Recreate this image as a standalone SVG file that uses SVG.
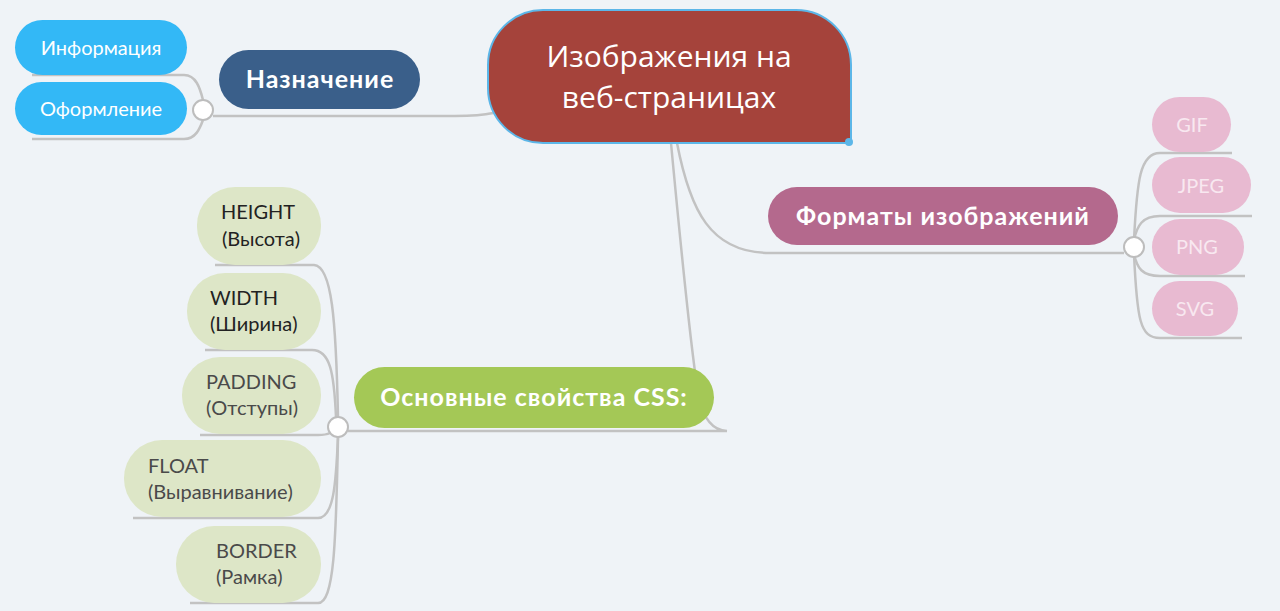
<svg xmlns="http://www.w3.org/2000/svg" width="1280" height="611" viewBox="0 0 1280 611">
<style>
.bg{fill:#eff3f7}
.conn path{fill:none;stroke:#c2c2c2;stroke-width:2.5}
.knob{fill:#fff;stroke:#bdbdbd;stroke-width:2}
.main{font-family:Lato,"Open Sans",sans-serif;font-weight:bold;font-size:25px;letter-spacing:1px;fill:#fff;text-anchor:middle}
.blue{fill:#33b8f6}
.blt{font-family:Lato,"Open Sans",sans-serif;font-size:20px;fill:#fff;text-anchor:middle}
.pink{fill:#e8bad1}
.pkt{font-family:Lato,"Open Sans",sans-serif;font-size:20px;fill:#f8e8f0;text-anchor:middle}
.green{fill:#dde6c7}
.gt{font-family:Lato,"Open Sans",sans-serif;font-size:20px;fill:#222}
.gt2{font-family:Lato,"Open Sans",sans-serif;font-size:20px;fill:#4a4a4a}
</style>
<rect class="bg" x="0" y="0" width="1280" height="611"/>
<g id="connectors" class="conn">
<path d="M493 113 C480 116 470 116 455 116 H213"/>
<path d="M32 75 H184 C196 75 200 88 203 100"/>
<path d="M32 139 H184 C196 139 200 128 203 120"/>
<path d="M677 143 C690 210 710 253 770 253 H1124"/>
<path d="M1134 240 C1137 180 1140 153 1160 153 H1232"/>
<path d="M1134 240 C1137 226 1142 216 1160 216 H1252"/>
<path d="M1134 254 C1137 268 1142 276 1160 276 H1245"/>
<path d="M1134 254 C1137 320 1140 338 1160 338 H1242"/>
<path d="M671 143 C682 260 692 360 699 398 Q706 430 727 431 H348"/>
<path d="M338 417 C336 320 332 266 314 265 H215"/>
<path d="M336 417 C334 372 330 350 312 350 H205"/>
<path d="M330 433 Q326 435 318 435 H200"/>
<path d="M338 437 C336 482 334 518 318 518 H133"/>
<path d="M338 437 C336 545 334 603 318 603 H190"/>
<circle class="knob" cx="203" cy="110" r="10"/>
<circle class="knob" cx="1134" cy="247" r="10"/>
<circle class="knob" cx="338" cy="427" r="10"/>
</g>
<g id="central">
<path d="M543 10 H796 A55 55 0 0 1 851 65 V143 H543 A55 55 0 0 1 488 88 V65 A55 55 0 0 1 543 10 Z" fill="#a5433b" stroke="#5cb6e8" stroke-width="2"/>
<circle cx="849" cy="142" r="4" fill="#5cb6e8"/>
<text font-family="'Open Sans','Noto Sans',sans-serif" font-size="30" fill="#fff" text-anchor="middle"><tspan x="669" y="67">Изображения на</tspan><tspan x="669" y="108">веб-страницах</tspan></text>
</g>
<g id="naznachenie">
<rect x="219" y="50" width="201" height="59" rx="29.5" fill="#3a5f8a"/>
<text class="main" x="320" y="88">Назначение</text>
</g>
<g id="informatsiya">
<rect class="blue" x="15" y="20" width="172" height="55" rx="27.5"/>
<text class="blt" x="101" y="55">Информация</text>
</g>
<g id="oformlenie">
<rect class="blue" x="15" y="82" width="172" height="53" rx="26.5"/>
<text class="blt" x="101" y="116">Оформление</text>
</g>
<g id="formaty">
<rect x="768" y="187" width="350" height="58" rx="29" fill="#b4698d"/>
<text class="main" x="943" y="225">Форматы изображений</text>
</g>
<g id="gif">
<rect class="pink" x="1152" y="97" width="79" height="55" rx="27.5"/>
<text class="pkt" x="1192" y="132">GIF</text>
</g>
<g id="jpeg">
<rect class="pink" x="1152" y="157" width="99" height="56" rx="28"/>
<text class="pkt" x="1201" y="193">JPEG</text>
</g>
<g id="png">
<rect class="pink" x="1152" y="219" width="92" height="56" rx="28"/>
<text class="pkt" x="1197" y="254">PNG</text>
</g>
<g id="svg">
<rect class="pink" x="1152" y="281" width="86" height="55" rx="27.5"/>
<text class="pkt" x="1195" y="316">SVG</text>
</g>
<g id="css">
<rect x="354" y="367" width="360" height="61" rx="30.5" fill="#a4c856"/>
<text class="main" x="534" y="406">Основные свойства CSS:</text>
</g>
<g id="height">
<rect class="green" x="197" y="187" width="124" height="78" rx="38"/>
<text class="gt"><tspan x="221" y="219">HEIGHT</tspan><tspan x="222" y="246">(Высота)</tspan></text>
</g>
<g id="width">
<rect class="green" x="187" y="273" width="134" height="77" rx="38"/>
<text class="gt"><tspan x="210" y="305">WIDTH</tspan><tspan x="210" y="331">(Ширина)</tspan></text>
</g>
<g id="padding">
<rect class="green" x="182" y="357" width="139" height="77" rx="38"/>
<text class="gt2"><tspan x="206" y="389">PADDING</tspan><tspan x="206" y="415">(Отступы)</tspan></text>
</g>
<g id="float">
<rect class="green" x="124" y="440" width="197" height="77" rx="38"/>
<text class="gt2"><tspan x="148" y="473">FLOAT</tspan><tspan x="148" y="499">(Выравнивание)</tspan></text>
</g>
<g id="border">
<rect class="green" x="176" y="526" width="145" height="77" rx="38"/>
<text class="gt2"><tspan x="216" y="558">BORDER</tspan><tspan x="216" y="584">(Рамка)</tspan></text>
</g>
</svg>
